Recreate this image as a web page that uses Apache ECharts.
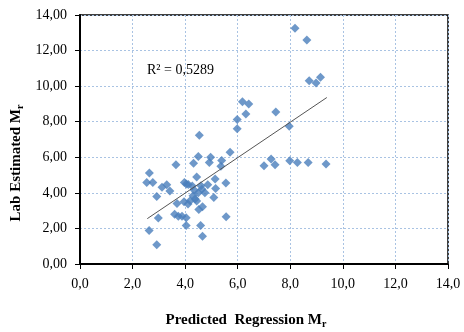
<!DOCTYPE html>
<html>
<head>
<meta charset="utf-8">
<script src="https://cdn.jsdelivr.net/npm/echarts@6/dist/echarts.min.js"></script>
<style>html,body{margin:0;padding:0;background:#fff}#c{width:464px;height:332px}</style>
</head>
<body>
<div id="c"></div>
<script>
// Predicted regression Mr (x) and lab estimated Mr (y)
var predicted = [8.18,8.63,8.72,8.98,9.15,6.18,6.42,6.31,7.45,5.98,5.98,7.96,4.54,5.71,4.50,4.97,4.92,5.39,5.36,4.32,3.65,7.00,7.27,7.42,7.98,8.27,8.68,9.36,2.64,2.54,2.77,3.30,3.12,3.42,2.92,3.97,4.12,4.44,4.27,4.60,4.86,5.14,5.55,4.64,4.75,5.16,5.09,4.30,4.38,4.19,4.44,3.96,4.11,3.69,4.52,4.66,3.60,3.74,3.88,4.04,2.98,5.56,4.04,4.59,2.63,4.66,2.92,4.05,4.35,4.50];
var labEstimated = [13.26,12.60,10.30,10.17,10.50,9.12,9.00,8.43,8.54,8.12,7.60,7.75,7.24,6.29,6.04,6.00,5.71,5.82,5.50,5.67,5.58,5.52,5.90,5.58,5.80,5.71,5.71,5.62,5.11,4.58,4.58,4.45,4.31,4.10,3.79,4.58,4.47,4.89,4.38,4.40,4.46,4.78,4.55,4.20,4.01,4.25,3.74,3.84,3.65,3.56,3.54,3.50,3.37,3.40,3.07,3.22,2.80,2.68,2.68,2.60,2.58,2.66,2.16,2.16,1.88,1.56,1.08,4.50,4.15,4.00];
// Linear trendline endpoints
var trendX = [2.56, 9.39];
var trendY = [2.55, 9.36];
var rSquaredText = 'R² = 0,5289';
var xTitle = 'Predicted  Regression M';
var yTitle = 'Lab Estimated M';
var titleSub = 'r';

var points = predicted.map(function(x,i){return [x, labEstimated[i]];});
var trend = trendX.map(function(x,i){return [x, trendY[i]];});
var serif = '"Liberation Serif", "Times New Roman", serif';
var chart = echarts.init(document.getElementById('c'), null, {renderer:'canvas'});
var gridLine = {show:true, lineStyle:{color:'#a9c3e3', type:[2,2], width:1}};
var titleRich = {
  a:{fontFamily:serif, fontSize:15, fontWeight:'bold', fill:'#000', color:'#000'},
  s:{fontFamily:serif, fontSize:10, fontWeight:'bold', fill:'#000', color:'#000', padding:[8,0,0,0]}
};
chart.setOption({
  animation:false,
  backgroundColor:'#fff',
  grid:{left:80, top:15, width:368, height:249, show:true, borderColor:'#000', borderWidth:1.5, backgroundColor:'transparent'},
  xAxis:{
    type:'value', min:0, max:14, interval:2,
    axisLine:{show:true, onZero:false, lineStyle:{color:'#000', width:2}},
    axisTick:{show:true, length:5, lineStyle:{color:'#000'}},
    splitLine:gridLine,
    axisLabel:{fontFamily:serif, fontSize:14, color:'#000', margin:13,
      formatter:function(v){return v.toFixed(1).replace('.',',');}}
  },
  yAxis:{
    type:'value', min:0, max:14, interval:2,
    axisLine:{show:true, onZero:false, lineStyle:{color:'#000', width:2}},
    axisTick:{show:true, length:5, lineStyle:{color:'#000'}},
    splitLine:gridLine,
    axisLabel:{fontFamily:serif, fontSize:14, color:'#000', margin:13,
      formatter:function(v){return v.toFixed(2).replace('.',',');}}
  },
  series:[
    {type:'scatter', data:points, symbol:'diamond', symbolSize:9,
     itemStyle:{color:'#4a7ebb'}, z:3},
    {type:'line', data:trend, symbol:'none', lineStyle:{color:'#555', width:1}, z:4, silent:true}
  ],
  graphic:[
    {type:'text', left:147, top:63, style:{text:rSquaredText, font:'14px ' + serif, fill:'#000'}},
    {type:'text', x:246, y:320, style:{text:'{a|' + xTitle + '}{s|' + titleSub + '}', rich:titleRich, align:'center', verticalAlign:'middle'}},
    {type:'text', x:16, y:163, rotation:Math.PI/2, style:{text:'{a|' + yTitle + '}{s|' + titleSub + '}', rich:titleRich, align:'center', verticalAlign:'middle'}}
  ]
});
</script>
</body>
</html>
